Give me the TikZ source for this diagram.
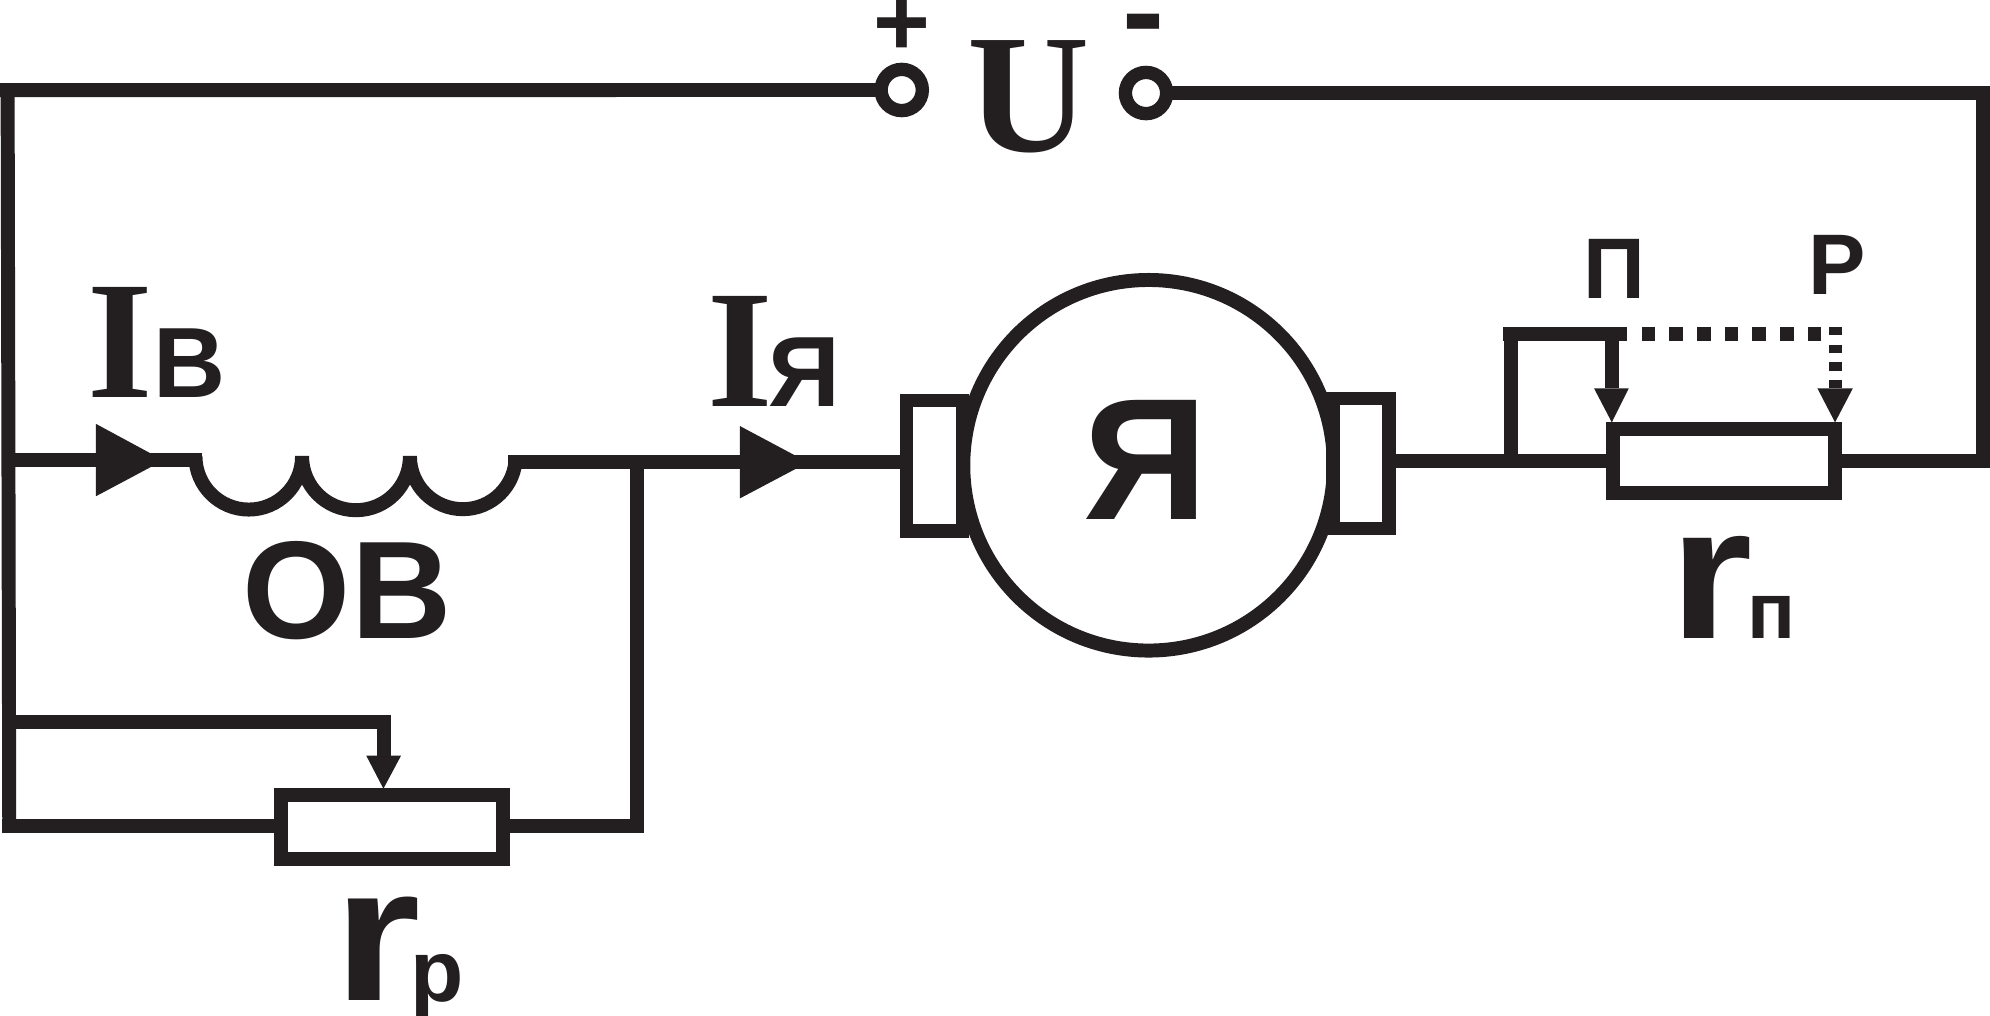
\documentclass[tikz,border=0pt]{standalone}
\usepackage{fontspec}
\setmainfont{Liberation Sans}
\newfontfamily\timesb{Liberation Serif}
\newcommand\fsz[1]{\fontsize{#1}{#1}\selectfont}
\definecolor{ink}{HTML}{231F20}
\tikzset{
  wire/.style={draw=ink,line width=11bp,line join=miter,line cap=butt},
  resist/.style={draw=ink,fill=white,line width=11bp,rectangle,inner sep=0,outer sep=0,minimum width=#1,minimum height=50bp},
  brush/.style={draw=ink,fill=white,line width=10.8bp,rectangle,inner sep=0,outer sep=0,minimum width=44bp,minimum height=#1},
  term/.style={draw=ink,fill=white,line width=10.5bp,circle,inner sep=0,outer sep=0,minimum size=32.5bp},
  head/.style={fill=ink},
  sans/.style={text=ink,inner sep=0,outer sep=0,anchor=base,font=\bfseries\fsz{#1}},
  ser/.style={text=ink,inner sep=0,outer sep=0,anchor=base,font=\timesb\bfseries\fsz{#1}},
}
\begin{document}
\begin{tikzpicture}[x=1bp,y=-1bp]
\clip (0,0) rectangle (1568,800.5);
\fill[white] (0,0) rectangle (1568,800.5);
% named points
\coordinate (tl) at (6,71);
\coordinate (ifj) at (6.5,362.7);
\coordinate (wj) at (6.9,569);
\coordinate (bl) at (7.3,650.7);
\coordinate (c0) at (159,362.7);
\coordinate (c1) at (400.5,364);
\coordinate (vj) at (502,364);
\coordinate (br) at (502,650.7);
\coordinate (wp) at (302.3,569);
\coordinate (wpb) at (302.3,596);
\coordinate (jb) at (1190.5,363.5);
\coordinate (jt) at (1190.5,263);
\coordinate (wn) at (1270,263);
\coordinate (wne) at (1281.6,263);
\coordinate (wnb) at (1270,306);
\coordinate (tr) at (1562.5,73.3);
\coordinate (rr) at (1562.5,363.5);
% resistors, motor, brushes, terminals
\node[resist=175.3bp] (rp) at (309,651.5) {};
\node[resist=174.6bp] (rn) at (1358.3,363.4) {};
\node[draw=ink,fill=white,line width=11bp,circle,inner sep=0,outer sep=0,minimum size=292bp] (M) at (905,366.6) {};
\node[brush=103bp] (bL) at (736.3,367) {};
\node[brush=102.5bp] (bR) at (1072.5,365.2) {};
\node[term] (tp) at (710.5,70.9) {};
\node[term] (tm) at (903,73.3) {};
% wires
\draw[wire] (tp.west) -- (0,71);
\draw[wire] (tl) ++(0,-5.4) -- (bl |- 0,656.1);
\draw[wire] (ifj) -- (c0 |- ifj);
\draw[wire] (wj) -- (wp) ++(0,-5.4) -- (wpb);
\draw[wire] (0,650.7) ++(1.9,0) -- (rp.west |- bl);
\draw[wire] (rp.east |- br) -- (507.4,650.7);
\draw[wire] (c1) -- (bL.west |- c1);
\draw[wire] (vj) -- (br);
\draw[wire] (bR.east |- jb) -- (rn.west |- jb);
\draw[wire] (1184.6,263) -- (wne);
\draw[wire] (jt) -- (jb);
\draw[wire] (wn) -- (wnb);
\draw[wire] (tm.east) -- (1568,73.3);
\draw[wire] (1562.5,67.9) -- (1562.5,369);
\draw[wire] (rn.east |- rr) -- (1568,363.5);
% coil
\draw[wire] (154,359.5) arc (180:0:42) arc (180:0:42.5) arc (180:0:41.7);
% dotted travel of the slider
\draw[draw=ink,line width=10.9bp,dash pattern=on 10.75bp off 11.05bp] (1293.6,263) -- (1436,263);
\draw[draw=ink,line width=10.5bp,dash pattern=on 6.5bp off 7.6bp] (1446,257.4) -- (1446,306);
% arrowheads
\fill[head] (75.6,334) -- (75.6,391) -- (128.8,362.7) -- cycle;
\fill[head] (583,335.7) -- (583,392.7) -- (636.7,364.3) -- cycle;
\fill[head] (288.6,595.4) -- (316,595.4) -- (302.1,621.4) -- cycle;
\fill[head] (1256,306) -- (1283.3,306) -- (1270,332.8) -- cycle;
\fill[head] (1432,306) -- (1459.9,306) -- (1445.9,332.8) -- cycle;
% labels
\node[ser=133] (lI1) at (95,313) {I};
\node[sans=79] (lB) at (149,313) {В};
\node[sans=110] (lOB) at (273.5,503) {ОВ};
\node[ser=133] (lI2) at (583,320.4) {I};
\node[sans=79] (lJ) at (633.5,320.4) {Я};
\node[ser=134] (lU) at (810.7,119.5) {U};
\node[sans=77] (lplus) at (710.9,44) {+};
\node[sans=100] (lminus) at (901.2,43) {-};
\node[sans=137] (lJJ) at (902.5,409.2) {Я};
\node[sans=68] (lP) at (1272,235) {П};
\node[sans=68] (lR) at (1447.6,231.7) {Р};
\node[sans=150,xscale=1.13,transform shape] (lr1) at (1348,503) {r};
\node[sans=63] (lsn) at (1396,503) {п};
\node[sans=152,xscale=1.17,transform shape] (lr2) at (297,788) {r};
\node[sans=69] (lsp) at (344.5,789) {р};
\end{tikzpicture}
\end{document}
